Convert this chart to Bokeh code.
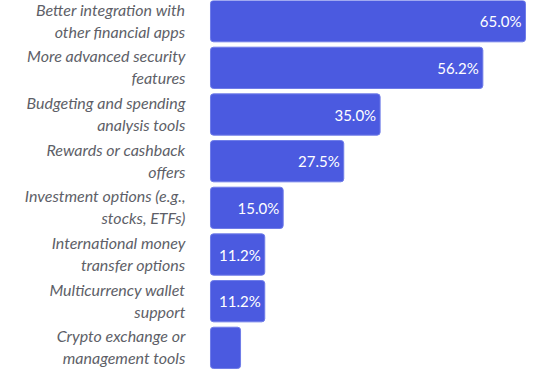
from bokeh.plotting import figure
from bokeh.models import ColumnDataSource, Range1d
from bokeh.core.properties import value
from bokeh.embed import file_html
from bokeh.resources import INLINE

categories = [
    "Better integration with\nother financial apps",
    "More advanced security\nfeatures",
    "Budgeting and spending\nanalysis tools",
    "Rewards or cashback\noffers",
    "Investment options (e.g.,\nstocks, ETFs)",
    "International money\ntransfer options",
    "Multicurrency wallet\nsupport",
    "Crypto exchange or\nmanagement tools",
]
values = [65.0, 56.2, 35.0, 27.5, 15.0, 11.2, 11.2, 6.2]
show_label = [True, True, True, True, True, True, True, False]

labels = [f"{v:.1f}%" if s else "" for v, s in zip(values, show_label)]
line1 = [c.split("\n")[0] for c in categories]
line2 = [c.split("\n")[1] for c in categories]
pos = list(range(len(categories)))

src = ColumnDataSource(dict(pos=pos, val=values, lab=labels, l1=line1, l2=line2,
                            zero=[0] * len(values)))

p = figure(width=550, height=370, output_backend="svg", toolbar_location=None,
           x_range=Range1d(-43.33, 70.16),
           y_range=Range1d(7.485, -0.443),
           min_border=0, outline_line_color=None)
p.axis.visible = False
p.grid.visible = False
p.background_fill_color = "white"

p.hbar(y="pos", left=0, right="val", height=0.885, source=src,
       fill_color="#4B5AE0", line_color="#6F7CE8", line_width=1,
       border_radius=3)

p.text(x="val", y="pos", text="lab", source=src, x_offset=-4,
       text_align="right", text_baseline="middle", text_color="white",
       text_font=value("Lato"), text_font_size="15px")

p.text(x="zero", y="pos", text="l1", source=src, x_offset=-25, y_offset=-12,
       text_align="right", text_baseline="alphabetic", text_color="#5E5F68",
       text_font=value("Lato"), text_font_style="italic",
       text_font_size="16px")
p.text(x="zero", y="pos", text="l2", source=src, x_offset=-25, y_offset=10,
       text_align="right", text_baseline="alphabetic", text_color="#5E5F68",
       text_font=value("Lato"), text_font_style="italic",
       text_font_size="16px")

open("out.html", "w").write(file_html(p, INLINE))
